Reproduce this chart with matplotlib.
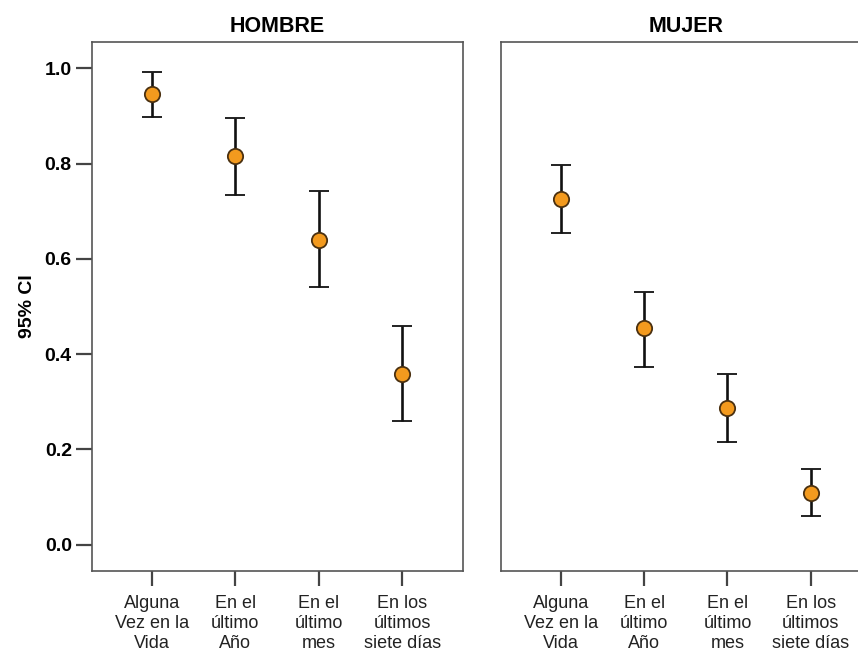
import matplotlib
matplotlib.use("Agg")
import matplotlib.pyplot as plt

# Data (mean and 95% CI bounds)
categories = ["Alguna\nVez en la\nVida", "En el\núltimo\nAño", "En el\núltimo\nmes", "En los\núltimos\nsiete días"]
groups = ["HOMBRE", "MUJER"]

hombre_mean = [0.946, 0.816, 0.640, 0.359]
hombre_low = [0.898, 0.734, 0.541, 0.260]
hombre_high = [0.992, 0.896, 0.743, 0.459]

mujer_mean = [0.726, 0.455, 0.287, 0.109]
mujer_low = [0.655, 0.373, 0.216, 0.061]
mujer_high = [0.797, 0.531, 0.359, 0.159]

yticks = [0.0, 0.2, 0.4, 0.6, 0.8, 1.0]

plt.rcParams['font.family'] = ['Liberation Sans', 'DejaVu Sans']

fig = plt.figure(figsize=(8.58, 6.56), dpi=100)
ax1 = fig.add_axes([0.1072, 0.1296, 0.4324, 0.8064])
ax2 = fig.add_axes([0.5836, 0.1296, 0.4324, 0.8064])

data = [(hombre_mean, hombre_low, hombre_high), (mujer_mean, mujer_low, mujer_high)]
x = list(range(len(categories)))

for ax, title, (m, lo, hi) in zip([ax1, ax2], groups, data):
    yerr = [[a - b for a, b in zip(m, lo)], [b - a for a, b in zip(m, hi)]]
    ax.errorbar(x, m, yerr=yerr, fmt='o', color='#111111', ecolor='#111111',
                elinewidth=1.9, capsize=7.5, capthick=1.9,
                markersize=11, markerfacecolor='#F39A1E',
                markeredgecolor='#4a3010', markeredgewidth=1.3, zorder=3)
    ax.set_xlim(-0.72, 3.73)
    ax.set_ylim(-0.055, 1.055)
    ax.set_xticks(x)
    ax.set_xticklabels(categories, fontsize=13, color='#222222', linespacing=1.25)
    ax.tick_params(axis='x', length=11, width=1.6, color='#444444', pad=6, direction='out')
    for s in ax.spines.values():
        s.set_color('#555555')
        s.set_linewidth(1.2)
    ax.set_title(title, fontsize=15.5, fontweight='bold', pad=7)

ax1.set_yticks(yticks)
ax1.set_yticklabels([f"{v:.1f}" for v in yticks], fontsize=14, fontweight='bold')
ax1.tick_params(axis='y', length=11.5, width=1.6, color='#444444', pad=3)
ax1.set_ylabel("95% CI", fontsize=14, fontweight='bold', labelpad=6)

ax2.set_yticks([])
ax2.set_ylim(ax1.get_ylim())

fig.savefig("out.png", dpi=100)
